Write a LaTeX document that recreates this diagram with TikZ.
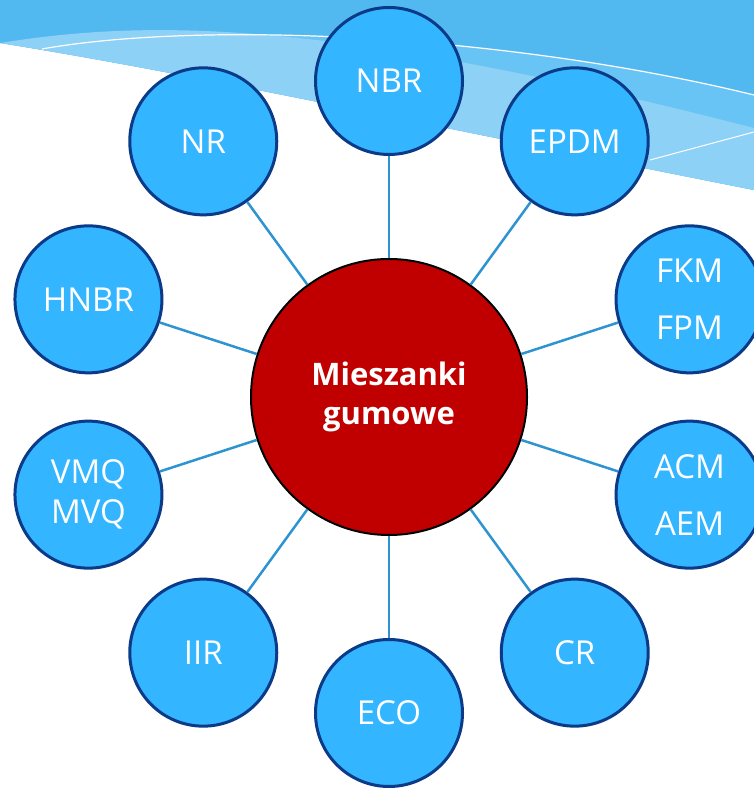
\documentclass[tikz,border=0pt]{standalone}
\usepackage{fontspec}
\setmainfont{Open Sans}
\usetikzlibrary{shapes,positioning,calc}

\definecolor{bgDark}{HTML}{52B9F0}
\definecolor{bgMid}{HTML}{68C4F4}
\definecolor{bgLight}{HTML}{8DD1F6}
\definecolor{rubFill}{HTML}{33B5FF}
\definecolor{rubLine}{HTML}{0B3A88}
\definecolor{mixFill}{HTML}{C00000}
\definecolor{linkCol}{HTML}{2E93D1}

\begin{document}
\begin{tikzpicture}
  [x=1pt,y=1pt,
   rubN/.style={circle,draw=rubLine,line width=3pt,fill=rubFill,text=white,
     minimum size=147pt,inner sep=0pt,align=center,font=\fontsize{33}{40}\selectfont},
   mixN/.style={circle,draw=black,line width=2pt,fill=mixFill,text=white,
     minimum size=276pt,align=center,font=\bfseries\fontsize{31}{39}\selectfont},
   linkE/.style={draw=linkCol,line width=2.5pt},
  ]
 \useasboundingbox (0,0) rectangle (754,789);

 % background swoosh
 \fill[bgDark] (0,789) -- (754,789) -- (754,599) .. controls (450,659) and (200,714) .. (0,746) -- cycle;
 \fill[bgMid] (42,740) .. controls (200,768) and (500,756) .. (754,694) -- (754,599)
   .. controls (450,659) and (200,714) .. (0,746) -- cycle;
 \fill[bgLight] (0,746) .. controls (150,770) and (330,770) .. (754,661) -- (754,599)
   .. controls (450,659) and (200,714) .. (0,746) -- cycle;
 \draw[white,line width=1.2pt] (42,740) .. controls (200,768) and (500,756) .. (754,694);
 \draw[white,line width=1pt] (650,629) -- (754,657);

 \node[mixN] (mix) at (389,392) {Mieszanki\\gumowe};

 \foreach \ang/\nm/\txt in {90/nbr/NBR,54/epdm/EPDM,18/fkm/{FKM\\[17pt]FPM},
   -18/acm/{ACM\\[17pt]AEM},-54/cr/CR,-90/eco/ECO,-126/iir/IIR,
   198/vmq/{VMQ\\MVQ},162/hnbr/HNBR,126/nr/NR}
 {
  \node[rubN] (\nm) at ($(mix)+(\ang:316)$) {\txt};
  \draw[linkE] (mix) -- (\nm);
 }
\end{tikzpicture}
\end{document}
